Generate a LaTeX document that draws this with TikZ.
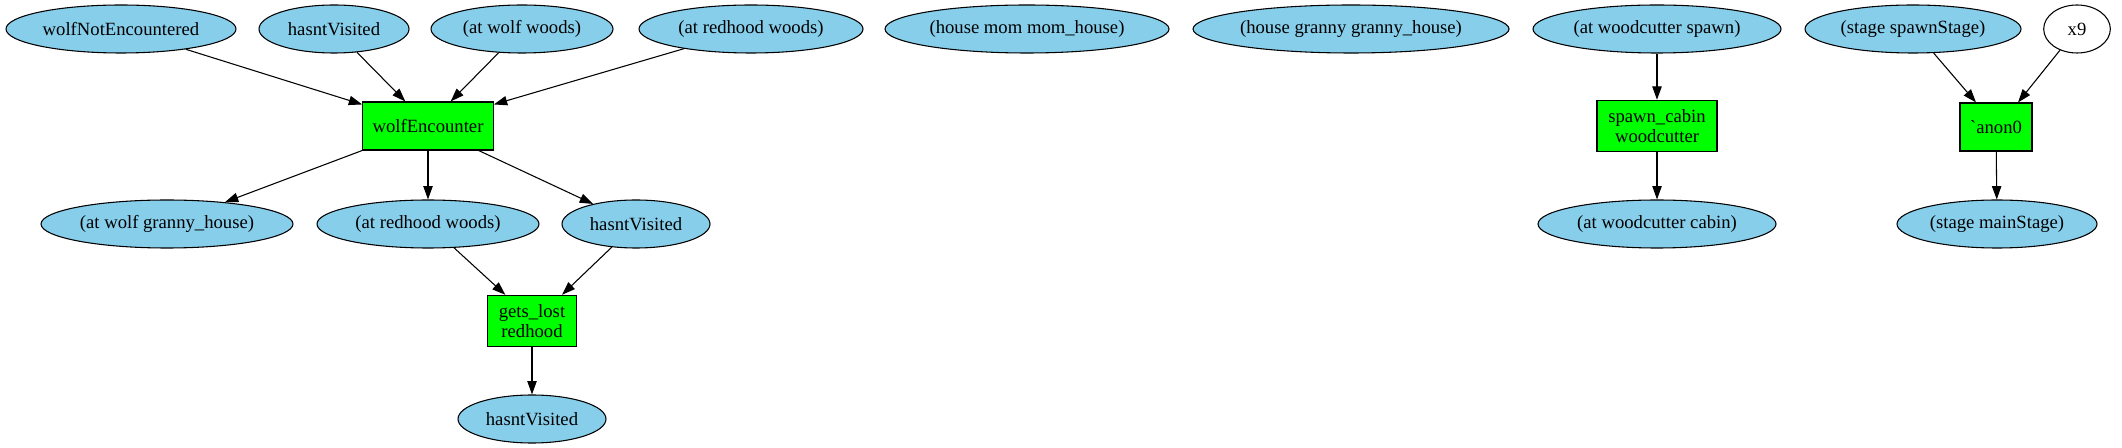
\documentclass[tikz,border=0pt]{standalone}
\usepackage{fontspec}
\setmainfont{Liberation Serif}
\usetikzlibrary{shapes.geometric,arrows.meta}
\definecolor{sky}{HTML}{87CEEB}
\definecolor{grn}{HTML}{00FF00}
\begin{document}
\begin{tikzpicture}[x=0.75pt,y=-0.75pt,
 ell/.style={ellipse, draw=black, fill=sky, inner sep=0pt, minimum height=36pt, line width=0.8pt, font=\fontsize{14}{15}\selectfont},
 act/.style={rectangle, draw=black, fill=grn, inner sep=0pt, line width=0.8pt, align=center, font=\fontsize{14}{15}\selectfont},
 edge/.style={-{Triangle[length=10pt,width=7pt]}, line width=0.8pt}]
\useasboundingbox (0,0) rectangle (2122,448);
% top row
\node[ell, minimum width=172.5pt] (wne) at (121,29) {wolfNotEncountered};
\node[ell, minimum width=112.5pt] (hv1) at (334,29) {hasntVisited};
\node[ell, minimum width=136.5pt] (aww) at (522,29) {(at wolf woods)};
\node[ell, minimum width=168pt] (arw1) at (751,29) {(at redhood woods)};
\node[ell, minimum width=213pt] (hmm) at (1027,29) {(house mom mom\_house)};
\node[ell, minimum width=237pt] (hgg) at (1351,29) {(house granny granny\_house)};
\node[ell, minimum width=186pt] (aws) at (1657,29) {(at woodcutter spawn)};
\node[ell, minimum width=162pt] (sss) at (1913,29) {(stage spawnStage)};
\node[ell, fill=white, minimum width=50pt] (x9) at (2077,29) {x9};
% actions
\node[act, minimum width=98pt, minimum height=36pt] (we) at (428,126) {wolfEncounter};
\node[act, minimum width=90pt, minimum height=38.5pt] (sc) at (1657,126) {spawn\_cabin\\woodcutter};
\node[act, minimum width=54pt, minimum height=36pt] (an) at (1996,127) {\textasciigrave anon0};
% second row
\node[ell, minimum width=189pt] (wgh) at (167,224) {(at wolf granny\_house)};
\node[ell, minimum width=166.5pt] (arw2) at (428,224) {(at redhood woods)};
\node[ell, minimum width=111pt] (hv2) at (636,224) {hasntVisited};
\node[ell, minimum width=178.5pt] (awc) at (1657,224) {(at woodcutter cabin)};
\node[ell, minimum width=150pt] (sms) at (1997,224) {(stage mainStage)};
% bottom
\node[act, minimum width=67pt, minimum height=38.5pt] (gl) at (532,321) {gets\_lost\\redhood};
\node[ell, minimum width=111pt] (hv3) at (532,419) {hasntVisited};
% edges
\draw[edge] (wne) -- ([yshift=-2.25pt]we.north west);
\draw[edge] (hv1) -- ([xshift=-17pt]we.north);
\draw[edge] (aww) -- ([xshift=17pt]we.north);
\draw[edge] (arw1) -- ([yshift=-2.25pt]we.north east);
\draw[edge] (we.south west) -- (wgh);
\draw[edge] (we) -- (arw2);
\draw[edge] ([xshift=38pt]we.south) -- (hv2);
\draw[edge] (arw2) -- ([xshift=-20pt]gl.north);
\draw[edge] (hv2) -- ([xshift=22.5pt]gl.north);
\draw[edge] (gl) -- (hv3);
\draw[edge] (aws) -- (sc);
\draw[edge] (sc) -- (awc);
\draw[edge] (sss) -- ([xshift=-15pt]an.north);
\draw[edge] (x9) -- ([xshift=16.5pt]an.north);
\draw[edge] (an) -- (sms);
\end{tikzpicture}
\end{document}
